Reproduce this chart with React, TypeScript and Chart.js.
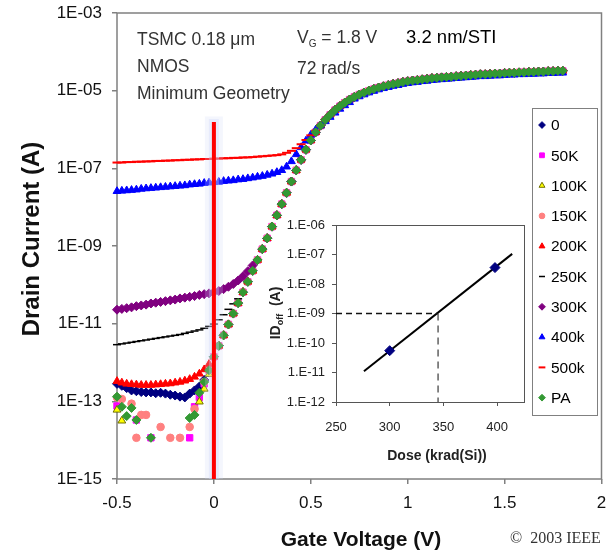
import React, { useEffect, useRef } from 'react';
import { Chart, registerables } from 'chart.js';
import { drawPoint } from 'chart.js/helpers';

Chart.register(...registerables);

const FONT = '"Liberation Sans", Arial, sans-serif';
const SERIF = '"Liberation Serif", "Times New Roman", serif';

// ---------- main chart data ----------
const gateVoltage = [
  -0.5, -0.475, -0.45, -0.425, -0.4, -0.375, -0.35, -0.325, -0.3, -0.275,
  -0.25, -0.225, -0.2, -0.175, -0.15, -0.125, -0.1, -0.075, -0.05, -0.025,
  0, 0.025, 0.05, 0.075, 0.1, 0.125, 0.15, 0.175, 0.2, 0.225,
  0.25, 0.275, 0.3, 0.325, 0.35, 0.375, 0.4, 0.425, 0.45, 0.475,
  0.5, 0.525, 0.55, 0.575, 0.6, 0.625, 0.65, 0.675, 0.7, 0.725,
  0.75, 0.775, 0.8, 0.825, 0.85, 0.875, 0.9, 0.925, 0.95, 0.975,
  1, 1.025, 1.05, 1.075, 1.1, 1.125, 1.15, 1.175, 1.2, 1.225,
  1.25, 1.275, 1.3, 1.325, 1.35, 1.375, 1.4, 1.425, 1.45, 1.475,
  1.5, 1.525, 1.55, 1.575, 1.6, 1.625, 1.65, 1.675, 1.7, 1.725,
  1.75, 1.775, 1.8,
];

// common drain current from Vg = 0 V to 1.8 V (shared by the curves once they merge)
const onCurrent = [
  1.41e-12, 2.69e-12, 5.01e-12, 9.55e-12, 1.82e-11, 3.39e-11, 6.46e-11, 1.2e-10, 2.29e-10, 4.37e-10,
  8.32e-10, 1.58e-9, 3.16e-9, 6.17e-9, 1.2e-8, 2.34e-8, 4.57e-8, 8.91e-8, 1.66e-7, 3.02e-7,
  5.25e-7, 8.51e-7, 1.26e-6, 1.78e-6, 2.4e-6, 3.16e-6, 3.98e-6, 4.9e-6, 5.89e-6, 6.92e-6,
  7.94e-6, 8.91e-6, 1.0e-5, 1.1e-5, 1.2e-5, 1.29e-5, 1.38e-5, 1.48e-5, 1.55e-5, 1.66e-5,
  1.74e-5, 1.82e-5, 1.86e-5, 1.95e-5, 2.0e-5, 2.09e-5, 2.14e-5, 2.19e-5, 2.24e-5, 2.29e-5,
  2.34e-5, 2.4e-5, 2.45e-5, 2.51e-5, 2.57e-5, 2.63e-5, 2.63e-5, 2.69e-5, 2.75e-5, 2.75e-5,
  2.82e-5, 2.88e-5, 2.88e-5, 2.95e-5, 2.95e-5, 3.02e-5, 3.02e-5, 3.09e-5, 3.09e-5, 3.16e-5,
  3.16e-5, 3.24e-5, 3.24e-5,
];

// each dose: its own values from Vg = -0.5 V until it joins the common curve
const dose0 = [
  2.82e-13, 2.51e-13, 2.19e-13, 1.91e-13, 1.82e-13, 1.74e-13, 1.7e-13, 1.7e-13, 1.62e-13, 1.66e-13,
  1.58e-13, 1.48e-13, 1.41e-13, 1.32e-13, 1.26e-13, 1.58e-13, 1.91e-13, 2.4e-13, 3.55e-13, 6.31e-13,
];
const dose50k = [
  7.59e-14, null, null, null, 3.31e-14, null, null, 1.15e-14, null, null,
  null, null, null, null, null, 1.15e-14, 7.24e-14, 1.26e-13, 2.82e-13, 6.31e-13,
];
const dose100k = [
  6.03e-14, 3.16e-14, null, null, null, null, null, null, null, null,
  null, null, null, null, null, null, null, 9.77e-14, 2.09e-13, 5.01e-13,
];
const dose150k = [
  1.26e-13, 1.15e-13, null, 8.71e-14, 1.15e-14, 4.47e-14, 4.47e-14, null, null, 2.19e-14,
  null, 1.15e-14, null, 1.15e-14, null, 2.19e-14, 6.31e-14, null, 3.16e-13, 6.31e-13,
];
const dose200k = [
  3.31e-13, 3.02e-13, 2.82e-13, 2.75e-13, 2.69e-13, 2.63e-13, 2.63e-13, 2.63e-13, 2.69e-13, 2.75e-13,
  2.82e-13, 2.88e-13, 3.02e-13, 3.16e-13, 3.39e-13, 3.72e-13, 4.27e-13, 5.13e-13, 6.61e-13, 9.12e-13,
];
const dose250k = [
  2.88e-12, 3.02e-12, 3.16e-12, 3.31e-12, 3.47e-12, 3.63e-12, 3.8e-12, 3.98e-12, 4.17e-12, 4.37e-12,
  4.57e-12, 4.79e-12, 5.01e-12, 5.25e-12, 5.62e-12, 6.03e-12, 6.46e-12, 6.92e-12, 7.59e-12, 8.51e-12,
  9.77e-12, 1.26e-11, 1.7e-11, 2.34e-11, 3.24e-11, 4.37e-11, 6.61e-11,
];
const dose300k = [
  2.29e-11, 2.4e-11, 2.51e-11, 2.63e-11, 2.82e-11, 2.95e-11, 3.09e-11, 3.31e-11, 3.47e-11, 3.63e-11,
  3.8e-11, 3.98e-11, 4.17e-11, 4.47e-11, 4.68e-11, 4.9e-11, 5.13e-11, 5.5e-11, 5.75e-11, 6.03e-11,
  6.46e-11, 6.92e-11, 7.76e-11, 8.91e-11, 1.05e-10, 1.29e-10, 1.66e-10, 2.24e-10, 3.16e-10,
];
const dose400k = [
  2.57e-8, 2.63e-8, 2.69e-8, 2.75e-8, 2.82e-8, 2.95e-8, 3.02e-8, 3.09e-8, 3.16e-8, 3.24e-8,
  3.31e-8, 3.39e-8, 3.47e-8, 3.55e-8, 3.63e-8, 3.8e-8, 3.89e-8, 3.98e-8, 4.17e-8, 4.27e-8,
  4.37e-8, 4.47e-8, 4.68e-8, 4.79e-8, 4.9e-8, 5.13e-8, 5.25e-8, 5.5e-8, 5.75e-8, 6.03e-8,
  6.31e-8, 6.76e-8, 7.24e-8, 7.94e-8, 8.91e-8, 1.1e-7, 1.51e-7, 2.29e-7, 3.47e-7, 5.13e-7,
  7.24e-7, 9.77e-7, 1.26e-6, 1.62e-6, 2.09e-6, 2.69e-6, 3.39e-6, 4.17e-6, 5.01e-6, 6.17e-6,
  7.08e-6, 7.94e-6, 8.91e-6, 9.77e-6, 1.07e-5, 1.15e-5, 1.23e-5, 1.32e-5, 1.38e-5, 1.48e-5,
  1.55e-5, 1.62e-5, 1.66e-5, 1.74e-5, 1.78e-5, 1.86e-5, 1.91e-5, 1.95e-5, 2.0e-5, 2.04e-5,
  2.09e-5, 2.14e-5, 2.19e-5, 2.24e-5, 2.29e-5, 2.34e-5, 2.34e-5, 2.4e-5, 2.45e-5, 2.45e-5,
  2.51e-5, 2.57e-5, 2.57e-5, 2.63e-5, 2.63e-5, 2.69e-5, 2.69e-5, 2.75e-5, 2.75e-5, 2.82e-5,
  2.82e-5, 2.88e-5, 2.88e-5,
];
const dose500k = [
  1.41e-7, 1.41e-7, 1.45e-7, 1.45e-7, 1.48e-7, 1.48e-7, 1.51e-7, 1.51e-7, 1.55e-7, 1.55e-7,
  1.58e-7, 1.58e-7, 1.62e-7, 1.62e-7, 1.66e-7, 1.66e-7, 1.7e-7, 1.7e-7, 1.74e-7, 1.74e-7,
  1.78e-7, 1.78e-7, 1.82e-7, 1.82e-7, 1.86e-7, 1.86e-7, 1.91e-7, 1.91e-7, 1.95e-7, 2.0e-7,
  2.04e-7, 2.09e-7, 2.14e-7, 2.19e-7, 2.29e-7, 2.51e-7, 2.82e-7, 3.31e-7, 4.17e-7, 5.37e-7,
  7.08e-7, 9.33e-7, 1.26e-6,
];
const dosePA = [
  1.32e-13, 7.24e-14, 4.17e-14, 6.76e-14, 3.31e-14, null, null, 1.15e-14, null, null,
  null, null, null, null, null, 3.72e-14, 4.47e-14, 1.66e-13, 3.16e-13, 6.31e-13,
];

const seriesNames = ['0', '50K', '100K', '150K', '200K', '250K', '300K', '400k', '500k', 'PA'];

const currentTickValues = [1e-15, 1e-13, 1e-11, 1e-9, 1e-7, 1e-5, 1e-3];
const currentTickLabels = ['1E-15', '1E-13', '1E-11', '1E-09', '1E-07', '1E-05', '1E-03'];
const voltageTickValues = [-0.5, 0, 0.5, 1, 1.5, 2];
const voltageTickLabels = ['-0.5', '0', '0.5', '1', '1.5', '2'];

// red marker line at Vg = 0
const markerVoltage = 0;
const markerTop = 1.55e-6;
const markerBottom = 1e-15;

// ---------- inset data ----------
const insetDose = [300, 398];
const insetIdOff = [5.5e-11, 3.6e-8];
const fitDose = [276, 414];
const fitIdOff = [1.1e-11, 1.05e-7];
const criterionDose = 345;
const criterionIdOff = 1e-9;
const doseTickValues = [250, 300, 350, 400];
const doseTickLabels = ['250', '300', '350', '400'];
const idoffTickValues = [1e-12, 1e-11, 1e-10, 1e-9, 1e-8, 1e-7, 1e-6];
const idoffTickLabels = ['1.E-12', '1.E-11', '1.E-10', '1.E-09', '1.E-08', '1.E-07', '1.E-06'];

// ---------- styles ----------
const seriesStyles: any[] = [
  { pointStyle: 'rectRot', fill: '#000080', stroke: '#000080', radius: 4.5, borderWidth: 1 },
  { pointStyle: 'rect', fill: '#FF00FF', stroke: '#FF00FF', radius: 4.5, borderWidth: 1 },
  { pointStyle: 'triangle', fill: '#FFFF00', stroke: '#707000', radius: 4.5, borderWidth: 1 },
  { pointStyle: 'circle', fill: '#FF8080', stroke: '#FF8080', radius: 3.8, borderWidth: 1 },
  { pointStyle: 'triangle', fill: '#FF0000', stroke: '#FF0000', radius: 4.5, borderWidth: 1 },
  { pointStyle: 'line', fill: '#000000', stroke: '#000000', radius: 4, borderWidth: 1.5 },
  { pointStyle: 'rectRot', fill: '#800080', stroke: '#800080', radius: 4.5, borderWidth: 1 },
  { pointStyle: 'triangle', fill: '#0000FF', stroke: '#0000FF', radius: 4.5, borderWidth: 1 },
  { pointStyle: 'line', fill: '#FF0000', stroke: '#FF0000', radius: 4.5, borderWidth: 2 },
  { pointStyle: 'rectRot', fill: '#339933', stroke: '#339933', radius: 4.5, borderWidth: 1 },
];

function buildSeries(): (number | null)[][] {
  const joinIndex = gateVoltage.indexOf(0);
  const join = (low: (number | null)[]) => low.concat(onCurrent.slice(low.length - joinIndex));
  return [
    join(dose0), join(dose50k), join(dose100k), join(dose150k), join(dose200k),
    join(dose250k), join(dose300k), dose400k, join(dose500k), join(dosePA),
  ];
}

function drawText(ctx: CanvasRenderingContext2D, s: string, x: number, y: number, font: string, color: string, align: CanvasTextAlign = 'left', baseline: CanvasTextBaseline = 'alphabetic') {
  ctx.font = font;
  ctx.fillStyle = color;
  ctx.textAlign = align;
  ctx.textBaseline = baseline;
  ctx.fillText(s, x, y);
}

const mainDecor = {
  id: 'mainDecor',
  beforeDatasetsDraw(chart: any) {
    const { ctx, chartArea: a } = chart;
    ctx.save();
    ctx.strokeStyle = '#808080';
    ctx.lineWidth = 1.5;
    ctx.strokeRect(a.left, a.top, a.right - a.left, a.bottom - a.top);
    ctx.restore();
  },
  afterDraw(chart: any) {
    const ctx: CanvasRenderingContext2D = chart.ctx;
    ctx.save();
    // annotations
    const f = `17.5px ${FONT}`;
    drawText(ctx, 'TSMC 0.18 \u03bcm', 137, 45, f, '#333');
    drawText(ctx, 'NMOS', 137, 72, f, '#333');
    drawText(ctx, 'Minimum Geometry', 137, 99, f, '#333');
    drawText(ctx, 'V', 297, 43, f, '#333');
    ctx.font = f;
    let x = 297 + ctx.measureText('V').width;
    drawText(ctx, 'G', x, 47, `10px ${FONT}`, '#333');
    ctx.font = `10px ${FONT}`;
    x += ctx.measureText('G').width;
    drawText(ctx, ' = 1.8 V', x, 43, f, '#333');
    drawText(ctx, '72 rad/s', 297, 74, f, '#333');
    drawText(ctx, '3.2 nm/STI', 406, 43, `18.5px ${FONT}`, '#000');

    // axis titles
    drawText(ctx, 'Gate Voltage (V)', 361, 546, `bold 21px ${FONT}`, '#111', 'center');
    ctx.save();
    ctx.translate(32, 239);
    ctx.rotate(-Math.PI / 2);
    drawText(ctx, 'Drain Current (A)', 0, 0, `bold 24px ${FONT}`, '#111', 'center', 'middle');
    ctx.restore();
    drawText(ctx, '\u00a9  2003 IEEE', 510, 543, `16px ${SERIF}`, '#333');

    // legend
    ctx.fillStyle = '#fff';
    ctx.fillRect(532, 108, 65, 307);
    ctx.strokeStyle = '#808080';
    ctx.lineWidth = 1;
    ctx.strokeRect(532.5, 108.5, 65, 307);
    seriesNames.forEach((name, k) => {
      const y = 125 + k * 30.3;
      const st = seriesStyles[k];
      ctx.fillStyle = st.fill;
      ctx.strokeStyle = st.stroke;
      ctx.lineWidth = st.borderWidth;
      drawPoint(ctx, { pointStyle: st.pointStyle, radius: st.radius * 0.75, borderWidth: st.borderWidth, rotation: 0 } as any, 542, y);
      drawText(ctx, name, 551, y + 1, `15.5px ${FONT}`, '#000', 'left', 'middle');
    });
    ctx.restore();
  },
};

const insetDecor = {
  id: 'insetDecor',
  beforeDatasetsDraw(chart: any) {
    const { ctx, chartArea: a } = chart;
    ctx.save();
    ctx.strokeStyle = '#555';
    ctx.lineWidth = 1;
    ctx.strokeRect(a.left + 0.5, a.top + 0.5, a.right - a.left, a.bottom - a.top);
    ctx.restore();
  },
  afterDraw(chart: any) {
    const ctx: CanvasRenderingContext2D = chart.ctx;
    ctx.save();
    drawText(ctx, 'Dose (krad(Si))', 187, 256, `bold 14px ${FONT}`, '#222', 'center', 'middle');
    // rotated ID_off (A)
    ctx.translate(25, 113);
    ctx.rotate(-Math.PI / 2);
    const big = `bold 14px ${FONT}`;
    const small = `bold 9px ${FONT}`;
    ctx.font = big;
    const w1 = ctx.measureText('ID').width;
    const w3 = ctx.measureText('  (A)').width;
    ctx.font = small;
    const w2 = ctx.measureText('off').width;
    let x = -(w1 + w2 + w3) / 2;
    drawText(ctx, 'ID', x, 5, big, '#222');
    x += w1;
    drawText(ctx, 'off', x, 8, small, '#222');
    x += w2;
    drawText(ctx, '  (A)', x, 5, big, '#222');
    ctx.restore();
  },
};

function mainConfig(): any {
  const series = buildSeries();
  const datasets: any[] = series.map((vals, k) => {
    const st = seriesStyles[k];
    return {
      label: seriesNames[k],
      data: vals.map((y, i) => ({ x: gateVoltage[i], y })),
      showLine: false,
      pointStyle: st.pointStyle,
      pointRadius: st.radius,
      pointBackgroundColor: st.fill,
      pointBorderColor: st.stroke,
      pointBorderWidth: st.borderWidth,
      order: seriesNames.length - 1 - k,
      clip: false,
    };
  });
  datasets.push({
    label: 'glow',
    data: [{ x: markerVoltage, y: markerTop * 1.4 }, { x: markerVoltage, y: markerBottom }],
    showLine: true,
    borderColor: 'rgba(205,216,245,0.22)',
    borderWidth: 18,
    pointRadius: 0,
    order: -1,
  });
  datasets.push({
    label: 'glow2',
    data: [{ x: markerVoltage, y: markerTop * 1.2 }, { x: markerVoltage, y: markerBottom }],
    showLine: true,
    borderColor: 'rgba(205,216,248,0.35)',
    borderWidth: 10,
    pointRadius: 0,
    order: -2,
  });
  datasets.push({
    label: 'marker',
    data: [{ x: markerVoltage, y: markerTop }, { x: markerVoltage, y: markerBottom }],
    showLine: true,
    borderColor: '#FF0000',
    borderWidth: 4,
    borderCapStyle: 'butt',
    pointRadius: 0,
    order: -3,
  });

  return {
    type: 'scatter',
    data: { datasets },
    options: {
      animation: false,
      responsive: false,
      devicePixelRatio: 1,
      events: [],
      layout: { padding: { left: 0, right: 3, top: 13, bottom: 0 } },
      plugins: { legend: { display: false }, tooltip: { enabled: false } },
      scales: {
        x: {
          type: 'linear',
          min: -0.5,
          max: 2,
          afterBuildTicks: (s: any) => { s.ticks = voltageTickValues.map((v) => ({ value: v })); },
          afterFit: (s: any) => { s.height = 73; s.paddingLeft = 0; s.paddingRight = 0; },
          ticks: {
            callback: (_v: any, i: number) => voltageTickLabels[i],
            font: { family: FONT, size: 17 },
            color: '#111',
            padding: 9,
            maxRotation: 0,
            autoSkip: false,
          },
          grid: { display: true, drawOnChartArea: false, drawTicks: true, tickLength: 5, color: '#808080', lineWidth: 1.5 },
          border: { display: false },
        },
        y: {
          type: 'logarithmic',
          min: 1e-15,
          max: 1e-3,
          afterBuildTicks: (s: any) => { s.ticks = currentTickValues.map((v) => ({ value: v })); },
          afterFit: (s: any) => { s.width = 117; s.paddingTop = 0; s.paddingBottom = 0; },
          ticks: {
            callback: (_v: any, i: number) => currentTickLabels[i],
            font: { family: FONT, size: 17 },
            color: '#111',
            padding: 10,
            autoSkip: false,
          },
          grid: { display: true, drawOnChartArea: false, drawTicks: true, tickLength: 5, color: '#808080', lineWidth: 1.5 },
          border: { display: false },
        },
      },
    },
    plugins: [mainDecor],
  };
}

function insetConfig(): any {
  const datasets: any[] = [
    {
      label: 'criterion-h',
      data: [{ x: doseTickValues[0], y: criterionIdOff }, { x: criterionDose, y: criterionIdOff }],
      showLine: true,
      borderColor: '#111',
      borderWidth: 1.5,
      borderDash: [6, 4],
      pointRadius: 0,
    },
    {
      label: 'criterion-v',
      data: [{ x: criterionDose, y: criterionIdOff }, { x: criterionDose, y: idoffTickValues[0] }],
      showLine: true,
      borderColor: '#111',
      borderWidth: 1,
      borderDash: [7, 5],
      pointRadius: 0,
    },
    {
      label: 'fit',
      data: fitDose.map((d, i) => ({ x: d, y: fitIdOff[i] })),
      showLine: true,
      borderColor: '#000',
      borderWidth: 2,
      pointRadius: 0,
    },
    {
      label: 'data',
      data: insetDose.map((d, i) => ({ x: d, y: insetIdOff[i] })),
      showLine: false,
      pointStyle: 'rectRot',
      pointRadius: 5,
      pointBackgroundColor: '#000080',
      pointBorderColor: '#000080',
      pointBorderWidth: 1,
      order: -1,
    },
  ];
  return {
    type: 'scatter',
    data: { datasets },
    options: {
      animation: false,
      responsive: false,
      devicePixelRatio: 1,
      events: [],
      layout: { padding: { left: 0, right: 16, top: 25, bottom: 0 } },
      plugins: { legend: { display: false }, tooltip: { enabled: false } },
      scales: {
        x: {
          type: 'linear',
          min: 250,
          max: 425,
          afterBuildTicks: (s: any) => { s.ticks = doseTickValues.map((v) => ({ value: v })); },
          afterFit: (s: any) => { s.height = 73; s.paddingLeft = 0; s.paddingRight = 0; },
          ticks: {
            callback: (_v: any, i: number) => doseTickLabels[i],
            font: { family: FONT, size: 13 },
            color: '#222',
            padding: 14,
            maxRotation: 0,
            autoSkip: false,
          },
          grid: { display: true, drawOnChartArea: false, drawTicks: true, tickLength: 4, color: '#555', lineWidth: 1 },
          border: { display: false },
        },
        y: {
          type: 'logarithmic',
          min: 1e-12,
          max: 1e-6,
          afterBuildTicks: (s: any) => { s.ticks = idoffTickValues.map((v) => ({ value: v })); },
          afterFit: (s: any) => { s.width = 86; s.paddingTop = 0; s.paddingBottom = 0; },
          ticks: {
            callback: (_v: any, i: number) => idoffTickLabels[i],
            font: { family: FONT, size: 13 },
            color: '#222',
            padding: 7,
            autoSkip: false,
          },
          grid: { display: true, drawOnChartArea: false, drawTicks: true, tickLength: 4, color: '#555', lineWidth: 1 },
          border: { display: false },
        },
      },
    },
    plugins: [insetDecor],
  };
}

export default function App() {
  const mainRef = useRef<HTMLCanvasElement>(null);
  const insetRef = useRef<HTMLCanvasElement>(null);
  useEffect(() => {
    const main = new Chart(mainRef.current as HTMLCanvasElement, mainConfig());
    const inset = new Chart(insetRef.current as HTMLCanvasElement, insetConfig());
    return () => {
      main.destroy();
      inset.destroy();
    };
  }, []);
  return (
    <div style={{ position: 'absolute', left: 0, top: 0, width: 608, height: 552, background: '#fff', overflow: 'hidden' }}>
      <canvas ref={mainRef} width={608} height={552} style={{ position: 'absolute', left: 0, top: 0, width: 608, height: 552 }} />
      <canvas ref={insetRef} width={290} height={275} style={{ position: 'absolute', left: 250, top: 200, width: 290, height: 275 }} />
    </div>
  );
}
